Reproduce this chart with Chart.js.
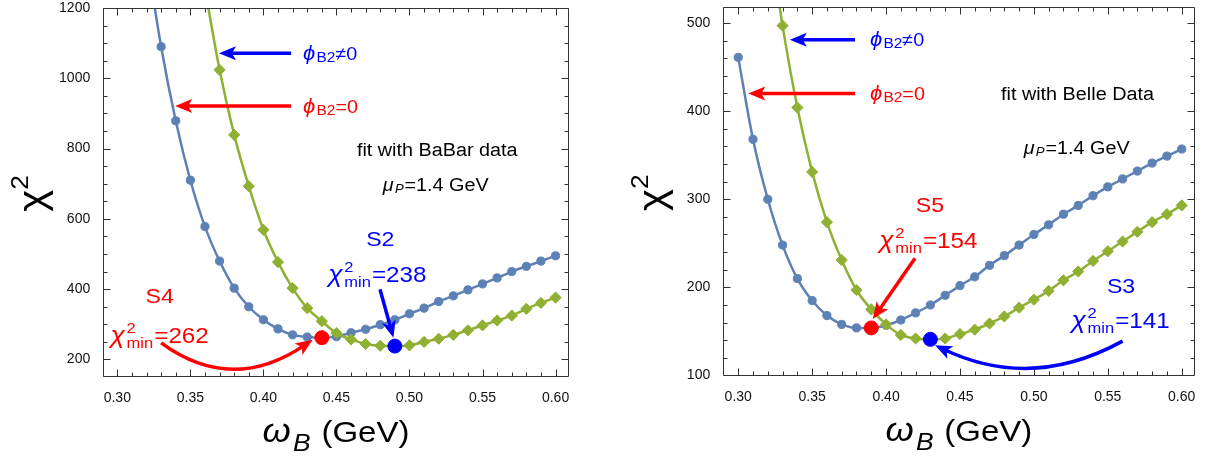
<!DOCTYPE html>
<html>
<head>
<meta charset="utf-8">
<script src="https://cdn.jsdelivr.net/npm/chart.js@4.4.1/dist/chart.umd.min.js"></script>
<style>
html, body { margin: 0; padding: 0; background: #fff; overflow: hidden; }
#wrap { position: relative; width: 1208px; height: 461px; }
canvas { position: absolute; top: 0; }
#left { left: 0; }
#right { left: 600px; }
</style>
</head>
<body>
<div id="wrap">
  <canvas id="left" width="600" height="461" style="width:600px;height:461px"></canvas>
  <canvas id="right" width="608" height="461" style="width:608px;height:461px"></canvas>
</div>
<script>
const FONT = "'Liberation Sans', Arial, sans-serif";
const BLUE = '#5E81B5';
const GREEN = '#8FB032';
const PURE_BLUE = '#0000FF';
const PURE_RED = '#FF0000';
const SX = 1.1; // horizontal stretch of the annotation text

// ---- fit with BaBar data (left) ----
const babarOmegaPhi0 = [0.32, 0.33, 0.34, 0.35, 0.36, 0.37, 0.38, 0.39, 0.40, 0.41, 0.42, 0.43, 0.44, 0.45,
  0.46, 0.47, 0.48, 0.49, 0.50, 0.51, 0.52, 0.53, 0.54, 0.55, 0.56, 0.57, 0.58, 0.59, 0.60];
const babarChi2Phi0 = [1350, 1090, 879, 710, 578, 480, 403, 350, 313, 287, 270, 264, 262, 265,
  276, 286, 299, 313, 330, 346, 365, 381, 398, 415, 432, 450, 465, 480, 495];
const babarOmegaPhiNe0 = [0.36, 0.37, 0.38, 0.39, 0.40, 0.41, 0.42, 0.43, 0.44, 0.45, 0.46, 0.47, 0.48,
  0.49, 0.50, 0.51, 0.52, 0.53, 0.54, 0.55, 0.56, 0.57, 0.58, 0.59, 0.60];
const babarChi2PhiNe0 = [1255, 1024, 839, 693, 569, 477, 403, 346, 309, 275, 257, 244, 239,
  238, 240, 250, 259, 270, 283, 297, 311, 325, 344, 361, 376];
const babarMinS4 = [0.44, 262];
const babarMinS2 = [0.49, 238];

// ---- fit with Belle data (right) ----
const belleOmegaPhi0 = [0.30, 0.31, 0.32, 0.33, 0.34, 0.35, 0.36, 0.37, 0.38, 0.39, 0.40, 0.41, 0.42, 0.43,
  0.44, 0.45, 0.46, 0.47, 0.48, 0.49, 0.50, 0.51, 0.52, 0.53, 0.54, 0.55, 0.56, 0.57, 0.58, 0.59, 0.60];
const belleChi2Phi0 = [461, 368, 300, 248, 210, 185, 168, 158, 154, 154, 157, 163, 171, 180,
  191, 202, 212, 225, 236, 248, 260, 271, 283, 293, 304, 314, 323, 332, 341, 349, 357];
const belleOmegaPhiNe0 = [0.32, 0.33, 0.34, 0.35, 0.36, 0.37, 0.38, 0.39, 0.40, 0.41, 0.42, 0.43, 0.44,
  0.45, 0.46, 0.47, 0.48, 0.49, 0.50, 0.51, 0.52, 0.53, 0.54, 0.55, 0.56, 0.57, 0.58, 0.59, 0.60];
const belleChi2PhiNe0 = [610, 497, 404, 331, 274, 231, 197, 175, 158, 146, 142, 141, 142,
  147, 152, 159, 167, 177, 186, 196, 208, 218, 230, 241, 252, 263, 274, 283, 293];
const belleMinS5 = [0.39, 154];
const belleMinS3 = [0.43, 141];

// ---- ticks ----
const omegaTicks = [0.30, 0.35, 0.40, 0.45, 0.50, 0.55, 0.60];
const babarChi2Ticks = [200, 400, 600, 800, 1000, 1200];
const belleChi2Ticks = [100, 200, 300, 400, 500];

function steps(a, b, d) {
  const out = [];
  for (let v = a; v <= b + 1e-9; v += d) out.push(Math.round(v * 1000) / 1000);
  return out;
}

// ---- rich text pieces ----
const phiLabel = rel => [
  {t: 'ϕ', s: 20, i: true},
  {t: 'B2', s: 14, dy: 2},
  {t: rel + '0', s: 18}
];
const muLabel = [
  {t: 'μ', s: 18, i: true},
  {t: 'P', s: 12, i: true, dy: 2},
  {t: '=1.4 GeV', s: 18}
];
const chiMin = v => [
  {t: 'χ', s: 24, i: true},
  {sup: '2', sub: 'min', s: 15, supDy: -10, subDy: 5},
  {t: '=' + v, s: 22}
];
const xTitle = [
  {t: 'ω', s: 33, i: true},
  {t: 'B', s: 24, i: true, dy: 9},
  {t: ' (GeV)', s: 30}
];
const yTitle = [
  {t: 'χ', s: 38},
  {t: '2', s: 24, dy: -17}
];

function fontOf(s, it) { return (it ? 'italic ' : '') + s + 'px ' + FONT; }

function partWidth(ctx, p) {
  if (p.sup !== undefined) {
    ctx.font = fontOf(p.s, false);
    return Math.max(ctx.measureText(p.sup).width, ctx.measureText(p.sub).width) + 1;
  }
  ctx.font = fontOf(p.s, p.i);
  return ctx.measureText(p.t).width + (p.i ? p.s * 0.06 : 0);
}

function drawRich(ctx, parts, x, y, align, color, rot) {
  ctx.save();
  ctx.translate(x, y);
  if (rot) ctx.rotate(rot);
  ctx.scale(SX, 1);
  const ws = parts.map(p => partWidth(ctx, p));
  const total = ws.reduce((a, b) => a + b, 0);
  let cx = align === 'left' ? 0 : -total / 2;
  ctx.fillStyle = color;
  ctx.textBaseline = 'alphabetic';
  ctx.textAlign = 'left';
  parts.forEach((p, k) => {
    if (p.sup !== undefined) {
      ctx.font = fontOf(p.s, false);
      ctx.fillText(p.sup, cx, p.supDy);
      ctx.fillText(p.sub, cx, p.subDy);
    } else {
      ctx.font = fontOf(p.s, p.i);
      ctx.fillText(p.t, cx, p.dy || 0);
    }
    cx += ws[k];
  });
  ctx.restore();
}

function arrowHead(ctx, tip, dx, dy, color) {
  const len = Math.hypot(dx, dy), ux = dx / len, uy = dy / len;
  const hl = 17, hw = 7, notch = 4;
  const bx = tip[0] - ux * hl, by = tip[1] - uy * hl;
  ctx.fillStyle = color;
  ctx.beginPath();
  ctx.moveTo(tip[0], tip[1]);
  ctx.lineTo(bx - uy * hw, by + ux * hw);
  ctx.lineTo(bx + ux * notch, by + uy * notch);
  ctx.lineTo(bx + uy * hw, by - ux * hw);
  ctx.closePath();
  ctx.fill();
}

const framePlugin = {
  id: 'frame',
  afterDatasetsDraw(chart, args, o) {
    const {ctx, chartArea: a} = chart;
    const sx = chart.scales.x, sy = chart.scales.y;
    const L = Math.round(a.left) + 0.5, R = Math.round(a.right) - 0.5;
    const T = Math.round(a.top) + 0.5 - (o.topBleed || 0), B = Math.round(a.bottom) - 0.5;
    const isMajor = (v, list) => list.some(m => Math.abs(m - v) < 1e-6);
    ctx.save();
    ctx.strokeStyle = '#333';
    ctx.lineWidth = 1;
    ctx.beginPath();
    ctx.rect(L, T, R - L, B - T);
    o.xMinor.forEach(v => {
      const p = Math.round(sx.getPixelForValue(v)) + 0.5;
      if (p < L || p > R) return;
      const len = isMajor(v, o.xMajor) ? 7 : 4;
      ctx.moveTo(p, B); ctx.lineTo(p, B - len);
      ctx.moveTo(p, T); ctx.lineTo(p, T + len);
    });
    o.yMinor.forEach(v => {
      const p = Math.round(sy.getPixelForValue(v)) + 0.5;
      if (p < T || p > B) return;
      const len = isMajor(v, o.yMajor) ? 7 : 4;
      ctx.moveTo(L, p); ctx.lineTo(L + len, p);
      ctx.moveTo(R, p); ctx.lineTo(R - len, p);
    });
    ctx.stroke();
    ctx.restore();
  }
};

const notesPlugin = {
  id: 'notes',
  afterDatasetsDraw(chart, args, o) {
    const {ctx, chartArea: a} = chart;
    const sx = chart.scales.x, sy = chart.scales.y;
    const px = d => [sx.getPixelForValue(d[0]), sy.getPixelForValue(d[1])];
    ctx.save();
    o.arrows.forEach(ar => {
      const p0 = px(ar.from), p2 = px(ar.to);
      let c = null, dx, dy;
      if (ar.via) {
        const m = px(ar.via);
        c = [2 * m[0] - (p0[0] + p2[0]) / 2, 2 * m[1] - (p0[1] + p2[1]) / 2];
        dx = p2[0] - c[0]; dy = p2[1] - c[1];
      } else {
        dx = p2[0] - p0[0]; dy = p2[1] - p0[1];
      }
      const len = Math.hypot(dx, dy);
      const end = [p2[0] - dx / len * 10, p2[1] - dy / len * 10];
      ctx.strokeStyle = ar.color;
      ctx.lineWidth = 3.5;
      ctx.lineCap = 'butt';
      ctx.beginPath();
      ctx.moveTo(p0[0], p0[1]);
      if (c) ctx.quadraticCurveTo(c[0], c[1], end[0], end[1]);
      else ctx.lineTo(end[0], end[1]);
      ctx.stroke();
      arrowHead(ctx, p2, dx, dy, ar.color);
    });
    o.texts.forEach(tx => {
      const p = px(tx.at);
      drawRich(ctx, tx.parts, p[0], p[1] + 0.36 * tx.size, tx.align || 'center', tx.color);
    });
    drawRich(ctx, xTitle, (a.left + a.right) / 2, a.bottom + 65, 'center', '#000');
    drawRich(ctx, yTitle, a.left - 57.7, (a.top + a.bottom) / 2 + 1, 'center', '#000', -Math.PI / 2);
    ctx.restore();
  }
};

function series(xs, ys, color, style, r, order) {
  return {
    data: xs.map((x, k) => ({x: x, y: ys[k]})),
    order: order,
    borderColor: color, backgroundColor: color,
    borderWidth: 2.5, pointStyle: style, pointRadius: r, pointBorderWidth: 1,
    pointBorderColor: color, pointBackgroundColor: color,
    cubicInterpolationMode: 'monotone', fill: false
  };
}

function marker(pt, color) {
  return {
    data: [{x: pt[0], y: pt[1]}], showLine: false, order: 0,
    pointRadius: 7, pointBorderWidth: 1, pointStyle: 'circle',
    pointBackgroundColor: color, pointBorderColor: color, borderColor: color, backgroundColor: color
  };
}

function panel(id, cfg) {
  return new Chart(document.getElementById(id), {
    type: 'line',
    data: {
      datasets: [
        series(cfg.x0, cfg.y0, BLUE, 'circle', 4.1, 2),
        series(cfg.x1, cfg.y1, GREEN, 'rectRot', 5.6, 1),
        marker(cfg.minRed, PURE_RED),
        marker(cfg.minBlue, PURE_BLUE)
      ]
    },
    options: {
      responsive: false,
      animation: false,
      events: [],
      layout: {padding: cfg.pad},
      plugins: {
        legend: {display: false},
        tooltip: {enabled: false},
        frame: {xMinor: steps(0.29, 0.61, 0.01), xMajor: omegaTicks, yMinor: cfg.yMinor, yMajor: cfg.yTicks, topBleed: cfg.topBleed},
        notes: {arrows: cfg.arrows, texts: cfg.texts}
      },
      scales: {
        x: {
          type: 'linear', min: cfg.xmin, max: cfg.xmax,
          afterBuildTicks: s => { s.ticks = omegaTicks.map(v => ({value: v})); },
          afterFit: s => { s.height = cfg.xH; s.paddingLeft = 0; s.paddingRight = 0; },
          ticks: {callback: v => v.toFixed(2), font: {family: FONT, size: 14}, color: '#111', padding: 5.5, maxRotation: 0, autoSkip: false},
          grid: {display: false},
          border: {display: false}
        },
        y: {
          type: 'linear', min: cfg.ymin, max: cfg.ymax,
          afterBuildTicks: s => { s.ticks = cfg.yTicks.map(v => ({value: v})); },
          afterFit: s => { s.width = cfg.yW; s.paddingTop = 0; s.paddingBottom = 0; },
          ticks: {callback: v => String(v), font: {family: FONT, size: 14}, color: '#111', padding: 4.5, autoSkip: false},
          grid: {display: false},
          border: {display: false}
        }
      }
    },
    plugins: [framePlugin, notesPlugin]
  });
}

panel('left', {
  x0: babarOmegaPhi0, y0: babarChi2Phi0, x1: babarOmegaPhiNe0, y1: babarChi2PhiNe0,
  minRed: babarMinS4, minBlue: babarMinS2,
  xmin: 0.29, xmax: 0.6094, ymin: 151, ymax: 1200,
  yTicks: babarChi2Ticks, yMinor: steps(150, 1200, 50),
  yW: 102.7, xH: 84.3, pad: {top: 4, right: 30.7, left: 0, bottom: 0}, topBleed: 0,
  arrows: [
    {from: [0.419, 1071], to: [0.3696, 1071], color: PURE_BLUE},
    {from: [0.419, 921], to: [0.3396, 921], color: PURE_RED},
    {from: [0.4798, 400], to: [0.489, 262], color: PURE_BLUE},
    {from: [0.33, 247], via: [0.38, 176], to: [0.4337, 256], color: PURE_RED}
  ],
  texts: [
    {at: [0.4271, 1071], align: 'left', color: PURE_BLUE, size: 18, parts: phiLabel('≠')},
    {at: [0.4271, 921], align: 'left', color: PURE_RED, size: 18, parts: phiLabel('=')},
    {at: [0.519, 798], color: '#000', size: 18, parts: [{t: 'fit with BaBar data', s: 18}]},
    {at: [0.518, 697], color: '#000', size: 18, parts: muLabel},
    {at: [0.329, 381], color: PURE_RED, size: 21, parts: [{t: 'S4', s: 21}]},
    {at: [0.329, 270], color: PURE_RED, size: 22, parts: chiMin('262')},
    {at: [0.48, 545], color: PURE_BLUE, size: 21, parts: [{t: 'S2', s: 21}]},
    {at: [0.478, 442], color: PURE_BLUE, size: 22, parts: chiMin('238')}
  ]
});

panel('right', {
  x0: belleOmegaPhi0, y0: belleChi2Phi0, x1: belleOmegaPhiNe0, y1: belleChi2PhiNe0,
  minRed: belleMinS5, minBlue: belleMinS3,
  xmin: 0.2895, xmax: 0.609, ymin: 100, ymax: 517,
  yTicks: belleChi2Ticks, yMinor: steps(100, 520, 20),
  yW: 122.7, xH: 85.5, pad: {top: 0, right: 13, left: 0, bottom: 0}, topBleed: 1,
  arrows: [
    {from: [0.379, 481], to: [0.3349, 481], color: PURE_BLUE},
    {from: [0.379, 420], to: [0.3068, 420], color: PURE_RED},
    {from: [0.4196, 233], to: [0.391, 164], color: PURE_RED},
    {from: [0.56, 139], via: [0.4975, 109.5], to: [0.4331, 134.4], color: PURE_BLUE}
  ],
  texts: [
    {at: [0.3891, 481], align: 'left', color: PURE_BLUE, size: 18, parts: phiLabel('≠')},
    {at: [0.3891, 420], align: 'left', color: PURE_RED, size: 18, parts: phiLabel('=')},
    {at: [0.5295, 420], color: '#000', size: 18, parts: [{t: 'fit with Belle Data', s: 18}]},
    {at: [0.529, 359], color: '#000', size: 18, parts: muLabel},
    {at: [0.4297, 294], color: PURE_RED, size: 21, parts: [{t: 'S5', s: 21}]},
    {at: [0.4286, 253.7], color: PURE_RED, size: 22, parts: chiMin('154')},
    {at: [0.559, 202], color: PURE_BLUE, size: 21, parts: [{t: 'S3', s: 21}]},
    {at: [0.5587, 163], color: PURE_BLUE, size: 22, parts: chiMin('141')}
  ]
});
</script>
</body>
</html>
